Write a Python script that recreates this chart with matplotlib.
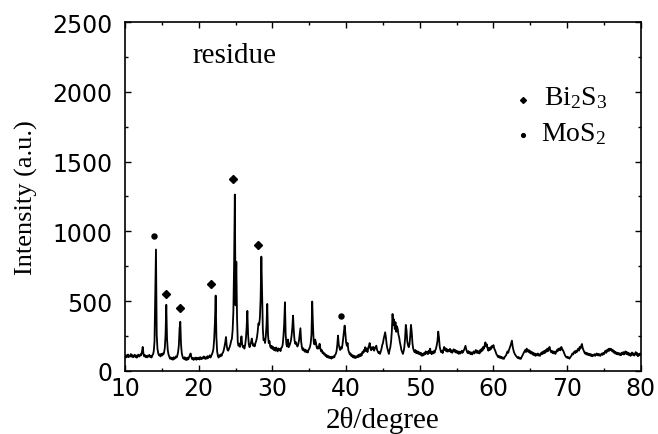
import numpy as np
import matplotlib.pyplot as plt

# XRD pattern of the residue, 0.1 degree steps from 10.0 to 80.0
int_10s = [
    108, 96, 112, 101, 118, 99, 110, 104, 121, 102,
    113, 98, 107, 116, 100, 111, 95, 109, 117, 103,
    106, 119, 112, 138, 172, 125, 104, 114, 99, 108,
    97, 110, 103, 115, 101, 108, 96, 112, 118, 142,
    210, 520, 870, 260, 160, 128, 112, 118, 104, 122,
    110, 125, 118, 132, 165, 260, 474, 230, 150, 118,
    102, 88, 97, 84, 93, 80, 98, 86, 92, 104,
    96, 110, 135, 180, 300, 352, 190, 128, 104, 90,
    86, 98, 80, 92, 78, 95, 84, 101, 112, 125,
    98, 85, 94, 79, 91, 83, 96, 80, 92, 87,
]
int_20s = [
    95, 82, 99, 88, 84, 97, 90, 104, 92, 86,
    99, 88, 106, 93, 101, 112, 96, 108, 120, 135,
    160, 230, 350, 540, 240, 140, 108, 96, 112, 104,
    118, 108, 125, 132, 150, 175, 205, 243, 180, 152,
    145, 158, 172, 190, 215, 230, 290, 420, 760, 1264,
    470, 783, 380, 205, 180, 195, 172, 205, 248, 190,
    170, 178, 160, 185, 230, 310, 430, 260, 190, 170,
    185, 205, 232, 200, 180, 190, 176, 200, 215, 240,
    280, 340, 330, 380, 520, 819, 560, 300, 220, 230,
    200, 245, 330, 480, 260, 200, 215, 175, 165, 180,
]
int_30s = [
    158, 172, 150, 165, 145, 168, 152, 140, 162, 148,
    158, 142, 165, 170, 190, 250, 340, 492, 260, 190,
    175, 225, 170, 180, 195, 215, 250, 310, 396, 290,
    220, 195, 205, 185, 175, 190, 215, 260, 306, 210,
    170, 150, 162, 145, 138, 152, 135, 145, 132, 150,
    160, 172, 200, 260, 497, 330, 210, 190, 225, 205,
    170, 160, 175, 160, 195, 165, 140, 150, 128, 134,
    118, 125, 108, 115, 98, 110, 95, 104, 92, 100,
    88, 102, 94, 105, 98, 115, 122, 140, 185, 253,
    190, 165, 150, 170, 160, 185, 230, 280, 325, 270,
]
int_40s = [
    205, 180, 200, 150, 135, 118, 126, 108, 115, 98,
    110, 94, 106, 92, 104, 98, 112, 100, 118, 105,
    122, 110, 135, 128, 150, 138, 170, 145, 160, 135,
    165, 180, 200, 160, 148, 170, 155, 172, 145, 160,
    170, 181, 150, 140, 128, 135, 122, 140, 158, 185,
    200, 230, 255, 277, 240, 190, 160, 140, 122, 150,
    170, 210, 280, 408, 330, 370, 300, 349, 280, 320,
    301, 260, 240, 205, 180, 150, 135, 122, 140, 170,
    230, 330, 290, 210, 185, 170, 190, 250, 330, 280,
    200, 160, 145, 134, 150, 128, 142, 125, 138, 120,
]
int_50s = [
    132, 115, 128, 108, 122, 112, 130, 118, 140, 125,
    135, 120, 145, 128, 160, 132, 120, 138, 125, 142,
    130, 148, 160, 185, 215, 282, 240, 175, 150, 134,
    145, 128, 150, 172, 150, 162, 140, 155, 138, 150,
    142, 158, 135, 148, 130, 145, 155, 138, 150, 132,
    145, 128, 140, 122, 138, 125, 132, 145, 130, 140,
    150, 165, 180, 155, 138, 128, 142, 125, 136, 120,
    132, 118, 128, 140, 125, 138, 150, 130, 145, 128,
    140, 125, 150, 138, 160, 145, 172, 160, 185, 205,
    175, 190, 160, 145, 165, 150, 170, 158, 180, 172,
]
int_60s = [
    185, 160, 150, 135, 120, 112, 100, 108, 95, 104,
    92, 100, 88, 96, 86, 98, 105, 112, 125, 140,
    130, 150, 165, 180, 200, 217, 175, 150, 132, 120,
    112, 104, 98, 92, 100, 88, 94, 86, 98, 108,
    118, 130, 140, 150, 135, 160, 145, 138, 150, 130,
    142, 125, 136, 118, 130, 112, 125, 108, 120, 112,
    125, 110, 120, 108, 118, 132, 120, 138, 125, 145,
    130, 150, 138, 160, 142, 158, 172, 150, 135, 145,
    128, 140, 125, 138, 122, 135, 150, 140, 160, 150,
    162, 148, 172, 160, 150, 140, 125, 112, 104, 96,
]
int_70s = [
    102, 92, 98, 88, 96, 105, 112, 125, 118, 132,
    140, 128, 145, 135, 150, 160, 145, 172, 160, 180,
    193, 165, 150, 138, 125, 132, 118, 128, 115, 124,
    112, 122, 108, 118, 105, 115, 110, 120, 108, 118,
    125, 112, 122, 110, 120, 108, 118, 125, 115, 130,
    120, 135, 145, 130, 150, 140, 158, 145, 160, 148,
    157, 140, 150, 132, 142, 125, 135, 120, 130, 118,
    128, 115, 125, 112, 130, 120, 135, 118, 128, 140,
    122, 135, 118, 130, 112, 125, 108, 120, 132, 115,
    125, 110, 122, 135, 115, 128, 105, 120, 112, 125,
    118,
]

intensity = np.array(int_10s + int_20s + int_30s + int_40s + int_50s + int_60s + int_70s)
two_theta = 10 + 0.1 * np.arange(len(intensity))

# phase marks above the peaks
bi2s3_x = [15.5, 17.4, 21.7, 24.65, 28.1]
bi2s3_y = [554, 451, 623, 1375, 903]
mos2_x = [13.93, 39.3]
mos2_y = [965, 396]

plt.rcParams["mathtext.default"] = "regular"
serif = ["Liberation Serif", "DejaVu Serif"]

fig = plt.figure(figsize=(6.58, 4.35), dpi=100)
ax = fig.add_axes([0.190, 0.145, 0.784, 0.802])

ax.plot(two_theta, intensity, color="black", linewidth=1.3)
ax.plot(bi2s3_x, bi2s3_y, "D", color="black", markersize=4.5, linestyle="none")
ax.plot(mos2_x, mos2_y, "o", color="black", markersize=3.6, linestyle="none")

# legend drawn by hand, like in the picture
ax.plot([64.0], [1941], "D", color="black", markersize=3.0)
ax.plot([63.95], [1690], "o", color="black", markersize=2.7)
ax.text(66.85, 1913, "Bi$_2$S$_3$", family=serif, fontsize=20, va="baseline")
ax.text(66.5, 1657, "MoS$_2$", family=serif, fontsize=20, va="baseline")
ax.text(19.2, 2213, "residue", family=serif, fontsize=21, va="baseline")

ax.set_xlim(10, 80)
ax.set_ylim(0, 2500)
ax.set_xticks([10, 20, 30, 40, 50, 60, 70, 80])
ax.set_yticks([0, 500, 1000, 1500, 2000, 2500])
ax.set_xticks(np.arange(15, 80, 10), minor=True)
ax.set_yticks(np.arange(250, 2500, 500), minor=True)
ax.tick_params(which="both", direction="in", top=True, right=True, width=1.0)
ax.tick_params(which="major", length=4.5)
ax.tick_params(which="minor", length=2.5)
ax.tick_params(axis="x", which="major", pad=4, labelsize=17)
ax.tick_params(axis="y", which="major", pad=9, labelsize=17)
for sp in ax.spines.values():
    sp.set_linewidth(1.2)

ax.set_xlabel("2θ/degree", family=serif, fontsize=21, labelpad=4)
ax.set_ylabel("Intensity (a.u.)", family=serif, fontsize=19, labelpad=10)

plt.savefig("out.png", dpi=100)
